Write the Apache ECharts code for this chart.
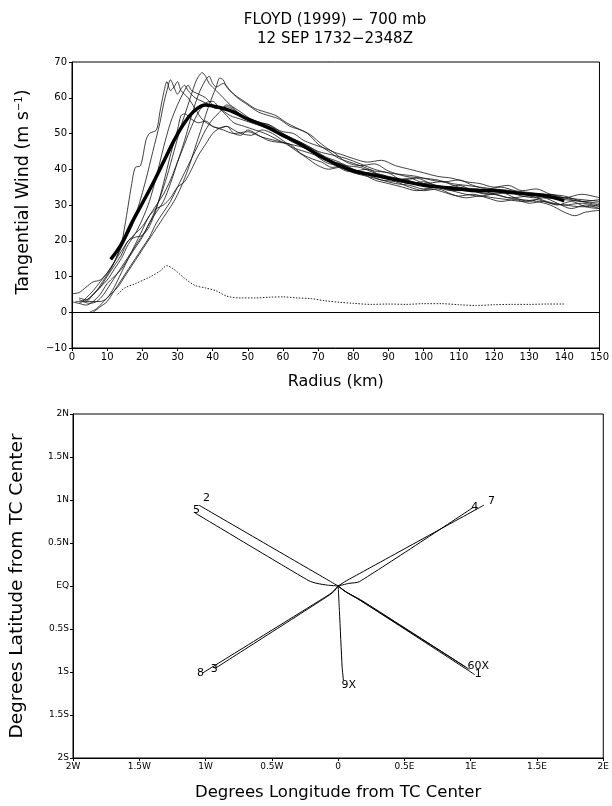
<!DOCTYPE html>
<html>
<head>
<meta charset="utf-8">
<script src="https://cdn.jsdelivr.net/npm/echarts@6/dist/echarts.min.js"></script>
<style>html,body{margin:0;padding:0;background:#fff}#c{width:612px;height:806px}</style>
</head>
<body>
<div id="c"></div>
<script>
// ---------- Top panel: tangential wind profiles (radius km, m/s) ----------
const radiusTicks = [0,10,20,30,40,50,60,70,80,90,100,110,120,130,140,150];
const windTicks = [-10,0,10,20,30,40,50,60,70];

const prof1 = [[0,5.2],[2,5.5],[4,7],[6,8.5],[8,9],[10,11],[12,14],[14,19],[15,24],[16,30],[17,36],[18,40.5],[19.5,41],[21,48],[22,50],[24,51],[25,56],[26,61],[27,64.5],[28,62],[29,63],[30,64.5],[31,62],[33,60],[35,57],[37,54],[40,52],[43,51],[46,50],[50,50.5],[54,49],[58,48],[62,47],[66,46],[70,44],[74,42],[78,41],[82,40.5],[86,39],[90,38],[95,37],[100,36],[105,36.5],[110,35],[115,34.5],[120,34],[125,33.5],[130,33],[135,32],[140,31.5],[145,31],[150,30.5]];
const prof2 = [[1,3],[3,3],[5,4],[7,6],[9,9],[11,12],[13,16],[15,20],[17,24],[19,30],[21,37],[23,45],[25,53],[26,58],[27,62],[28,65],[29,63],[30,61],[31,62.5],[32,63.5],[33,62],[35,60],[37,59],[39,58],[41,57],[44,57.5],[47,56],[50,54],[53,53],[56,52],[60,50.5],[63,50],[66,48],[70,46.5],[74,45],[78,42],[82,41],[86,41.5],[90,39.5],[95,38],[100,37.5],[104,37],[108,36],[112,35.5],[116,35],[120,34.5],[125,34],[130,33],[135,32.5],[140,32],[145,31.5],[150,31]];
const prof3 = [[2,4],[4,3.5],[6,5],[8,7],[10,9],[12,12],[14,15],[16,19],[18,22],[20,26],[22,31],[24,38],[26,46],[28,53],[30,58],[32,62],[33,63.5],[34,62],[36,61],[38,60],[40,58],[42,57],[45,55],[48,54],[51,53],[54,52],[57,51],[60,49],[64,48],[68,46],[72,43.5],[76,42],[80,39.5],[84,40],[88,38],[92,37],[96,37.5],[100,36],[105,35],[110,34],[115,34.5],[120,33],[125,32],[130,32.5],[135,31],[140,30],[145,30.5],[150,29.5]];
const prof4 = [[3,3],[5,2.5],[7,3],[9,5],[11,8],[13,11],[15,14],[17,17],[19,20],[21,23],[23,27],[25,32],[27,38],[29,45],[31,52],[33,58],[35,64],[36,66],[37,67],[38,66],[39,64],[41,62],[43,60],[45,58],[48,56],[51,54],[54,53],[57,52],[60,50],[63,48.5],[66,47],[70,45],[74,44],[78,43],[82,41.5],[86,40],[90,39],[94,38.5],[98,38],[102,37],[106,36.5],[110,37],[114,35.5],[118,34.5],[122,35],[126,34],[130,33.5],[135,33],[140,32.5],[145,31],[150,30]];
const prof5 = [[2,2.5],[4,2],[6,3],[8,5],[10,8],[12,10],[14,12],[16,15],[18,18],[20,21],[22,25],[24,28],[26,31],[28,36],[30,42],[32,48],[34,55],[36,61],[38,65],[39,66],[40,64],[41,63],[43,64],[45,62],[47,60],[50,58],[53,56],[56,55],[59,54],[62,52],[65,51],[68,49.5],[71,47],[74,45],[77,44],[80,43],[84,42],[88,42.5],[92,41],[96,40],[100,39],[104,38],[108,37.5],[112,36.5],[116,36],[120,35],[124,35.5],[128,34],[132,34.5],[136,33],[140,32],[145,33],[150,32]];
const prof6 = [[5,0],[7,1],[9,3],[11,5],[13,7],[15,10],[17,13],[19,16],[21,19],[23,22],[25,25],[27,28],[29,31],[31,35],[33,40],[35,46],[37,52],[39,58],[41,63],[42,65.5],[43,65],[44,63],[46,61],[49,59],[52,57],[55,56],[58,55],[61,53],[64,51.5],[67,50],[70,47],[73,45],[76,43],[79,42],[82,41],[86,39.5],[90,39],[94,37],[98,37.5],[102,36],[106,35],[110,35.5],[114,34],[118,33],[122,33.5],[126,32],[130,31],[134,32],[138,30.5],[142,29],[146,30],[150,29]];
const prof7 = [[0,3],[2,2.5],[4,4],[6,6],[8,8.5],[10,11],[12,14],[14,17],[16,20],[18,22],[20,24],[22,27],[24,30],[26,33],[28,37],[30,42],[32,47],[34,52],[36,56],[38,58.5],[40,59],[42,57],[44,55],[46,53],[49,52],[52,51],[55,50],[58,48.5],[61,47],[64,45],[67,43],[70,41],[73,40],[76,40.5],[80,39],[84,38],[88,37],[92,36],[96,35.5],[100,34.5],[104,35],[108,34],[112,33],[116,32.5],[120,33],[124,32],[128,31.5],[132,31],[136,30],[140,28],[143,27],[146,28],[150,28.5]];
const prof8 = [[2,3.5],[4,3],[6,5],[8,7],[10,10],[12,13],[14,16],[16,20],[18,21],[20,21.5],[22,24],[24,29],[26,36],[28,44],[30,51],[31,55],[32,55.5],[34,54],[36,53],[38,53.5],[40,52],[42,51.5],[44,52],[46,50],[48,49.5],[50,51],[53,49.5],[56,48],[59,47.5],[62,47],[65,44.5],[68,43],[71,42],[74,40.5],[77,41],[80,40],[84,38.5],[88,37],[92,36.5],[96,35],[100,34],[104,34.5],[108,33],[112,32],[116,32.5],[120,32],[124,31.5],[128,31],[132,31.5],[136,30.5],[140,30],[145,29.5],[150,30]];
const prof9 = [[4,3],[6,3],[8,3],[10,4],[12,7],[14,11],[16,15],[18,19],[20,23],[22,27],[24,29],[26,30],[28,32],[30,35],[32,36.5],[34,40],[36,44],[38,47],[40,50],[42,51.5],[44,52],[46,51],[48,50],[51,49.5],[54,51],[57,50],[60,48],[63,46],[66,45],[69,44],[72,42],[75,41],[78,39.5],[82,39],[86,37],[90,36],[94,35],[98,34],[102,34.5],[106,33.5],[110,32.5],[114,33],[118,32],[122,31],[126,31.5],[130,30.5],[134,31],[138,30],[142,31],[146,29.5],[150,29]];
const prof10 = [[6,0],[8,1.5],[10,3],[12,6],[14,9],[16,12],[18,15],[20,18],[22,21],[24,25],[26,28],[28,31],[30,35],[32,39],[34,43],[36,47],[38,51],[40,54],[42,56],[44,58],[46,57],[48,55],[50,54],[53,53],[56,52.5],[59,50],[62,48],[65,46.5],[68,45],[71,43],[74,42],[77,41.5],[80,40],[84,39],[88,38.5],[92,37],[96,36],[100,36.5],[104,35],[108,34],[112,34.5],[116,33.5],[120,33],[124,33.5],[128,32.5],[132,32],[136,33],[140,32],[145,31],[150,31.5]];
const meanProfile = [[11,14.8],[14,19],[17,25],[20,30.5],[23,36],[26,42],[29,48],[32,53],[35,56.5],[38,58],[40,57.7],[43,57],[46,56],[50,54],[55,52],[60,49.5],[65,47],[70,44],[75,41.5],[80,39.5],[85,38.5],[90,37.5],[95,36.5],[100,35.5],[105,35],[110,34.5],[115,34],[120,34],[125,33.5],[130,33],[135,32.5],[140,31.2]];
const stdProfile = [[13,5],[15,6.8],[18,8],[22,9.8],[25,11.5],[27,13],[29,12],[32,9.5],[35,7.5],[38,6.8],[41,6],[44,4.5],[48,4],[52,4],[56,4.2],[60,4.3],[64,4],[68,3.8],[72,3.2],[76,2.8],[80,2.5],[85,2.2],[90,2.3],[95,2.2],[100,2.4],[105,2.4],[110,2.1],[115,1.9],[120,2.1],[125,2.2],[130,2.2],[135,2.3],[140,2.3]];

// ---------- Bottom panel: center-track displacement (deg lon, deg lat) ----------
const lonTickLabels = ["2W","1.5W","1W","0.5W","0","0.5E","1E","1.5E","2E"];
const latTickLabels = ["2S","1.5S","1S","0.5S","EQ","0.5N","1N","1.5N","2N"];
const trackNames = ["1","2","3","4","5","6","7","8","9X","0X"];
const track1 = [[0,0],[0.05,-0.06],[0.15,-0.15],[1.03,-1.03]];
const track2 = [[0,0],[-0.1,0.09],[-1.05,0.94]];
const track3 = [[0,0],[-0.03,-0.06],[-0.08,-0.12],[-0.93,-0.96]];
const track4 = [[0,0],[0.08,0.03],[0.16,0.05],[1.02,0.915]];
const track5 = [[0,0],[-0.08,0.01],[-0.16,0.03],[-0.22,0.06],[-1.08,0.85]];
const track6 = [[0,0],[0.06,-0.07],[0.18,-0.17],[0.96,-0.94]];
const track7 = [[0,0],[0.05,0.05],[0.12,0.11],[1.1,0.94]];
const track8 = [[0,0],[-0.05,-0.08],[-0.12,-0.15],[-1.02,-1.01]];
const track9 = [[0,0],[0.01,-0.3],[0.03,-0.94],[0.04,-1.1]];
const track0 = [[0,0],[0.07,-0.08],[0.16,-0.16],[0.99,-0.97]];
const tracks = [track1,track2,track3,track4,track5,track6,track7,track8,track9,track0];

const labelOffsets = [[0,0],[4,-7],[-4,1],[-2,0],[-2,-3],[2,-1],[4,-4],[-6,0],[-2,5],[5,-3]];

const FONT = 'DejaVu Sans';
const chart = echarts.init(document.getElementById('c'), null, {renderer:'canvas'});

const profs = [prof1,prof2,prof3,prof4,prof5,prof6,prof7,prof8,prof9,prof10];
const series = [];
profs.forEach((p,i)=>{
  series.push({type:'line', xAxisIndex:0, yAxisIndex:0, data:p, showSymbol:false, smooth:0.3,
    lineStyle:{color:'#111', width:0.8}, silent:true, z:2});
});
series.push({type:'line', xAxisIndex:0, yAxisIndex:0, data:meanProfile, showSymbol:false, smooth:0.4,
  lineStyle:{color:'#000', width:3.5}, z:4});
series.push({type:'line', xAxisIndex:0, yAxisIndex:0, data:stdProfile, showSymbol:false, smooth:0.3,
  lineStyle:{color:'#222', width:1, type:[1.5,1.5]}, z:3,
  markLine:{silent:true, symbol:'none', label:{show:false}, lineStyle:{color:'#000', width:1.2, type:'solid'}, data:[{yAxis:0}]}});

tracks.forEach((t,i)=>{
  series.push({type:'line', xAxisIndex:1, yAxisIndex:1, data:t, showSymbol:false, smooth:0.2,
    lineStyle:{color:'#000', width:1},
    endLabel:{show:true, formatter:trackNames[i], fontFamily:FONT, fontSize:11, color:'#000', offset:labelOffsets[i], distance:0}});
});

chart.setOption({
  animation:false,
  backgroundColor:'#fff',
  title:[
    {text:'FLOYD (1999) \u2212 700 mb\n12 SEP 1732\u22122348Z', left:330, top:6, textAlign:'center',
     textStyle:{fontFamily:FONT, fontWeight:'normal', fontSize:15, lineHeight:19, color:'#000'}}
  ],
  grid:[
    {left:72, top:62, width:537, height:286, show:true, borderColor:'#000', borderWidth:1},
    {left:73, top:414, width:533, height:344, show:true, borderColor:'#000', borderWidth:1}
  ],
  xAxis:[
    {gridIndex:0, type:'value', min:0, max:150, interval:10,
     name:'Radius (km)', nameLocation:'middle', nameGap:26,
     nameTextStyle:{fontFamily:FONT, fontSize:16, color:'#000'},
     axisLine:{show:true, onZero:false, lineStyle:{color:'#000'}},
     axisTick:{show:true, inside:false, length:3, lineStyle:{color:'#000'}},
     axisLabel:{fontFamily:FONT, fontSize:10, color:'#000', margin:4,
       formatter:(v)=> radiusTicks.indexOf(v)>=0 ? String(v) : ''},
     splitLine:{show:false}},
    {gridIndex:1, type:'value', min:-2, max:2, interval:0.5,
     name:'Degrees Longitude from TC Center', nameLocation:'middle', nameGap:26,
     nameTextStyle:{fontFamily:FONT, fontSize:16.5, color:'#000'},
     axisLine:{show:true, onZero:false, lineStyle:{color:'#000'}},
     axisTick:{show:true, inside:false, length:3, lineStyle:{color:'#000'}},
     axisLabel:{fontFamily:FONT, fontSize:9, color:'#000', margin:4,
       formatter:(v)=> lonTickLabels[Math.round((v+2)/0.5)]},
     splitLine:{show:false}}
  ],
  yAxis:[
    {gridIndex:0, type:'value', min:-10, max:70, interval:10,
     name:'Tangential Wind (m s{sup|\u22121})', nameLocation:'middle', nameGap:40,
     nameTextStyle:{fontFamily:FONT, fontSize:17.5, color:'#000', padding:[0,0,0,26],
       rich:{sup:{fontFamily:FONT, fontSize:10, color:'#000', verticalAlign:'top', padding:[0,0,8,0]}}},
     axisLine:{show:true, onZero:false, lineStyle:{color:'#000'}},
     axisTick:{show:true, inside:false, length:3, lineStyle:{color:'#000'}},
     axisLabel:{fontFamily:FONT, fontSize:10, color:'#000', margin:5,
       formatter:(v)=> windTicks.indexOf(v)>=0 ? String(v).replace('-', '\u2212') : ''},
     splitLine:{show:false}},
    {gridIndex:1, type:'value', min:-2, max:2, interval:0.5,
     name:'Degrees Latitude from TC Center', nameLocation:'middle', nameGap:46,
     nameTextStyle:{fontFamily:FONT, fontSize:18.5, color:'#000'},
     axisLine:{show:true, onZero:false, lineStyle:{color:'#000'}},
     axisTick:{show:true, inside:false, length:3, lineStyle:{color:'#000'}},
     axisLabel:{fontFamily:FONT, fontSize:9, color:'#000', margin:4,
       formatter:(v)=> latTickLabels[Math.round((v+2)/0.5)]},
     splitLine:{show:false}}
  ],
  series: series
});
</script>
</body>
</html>
